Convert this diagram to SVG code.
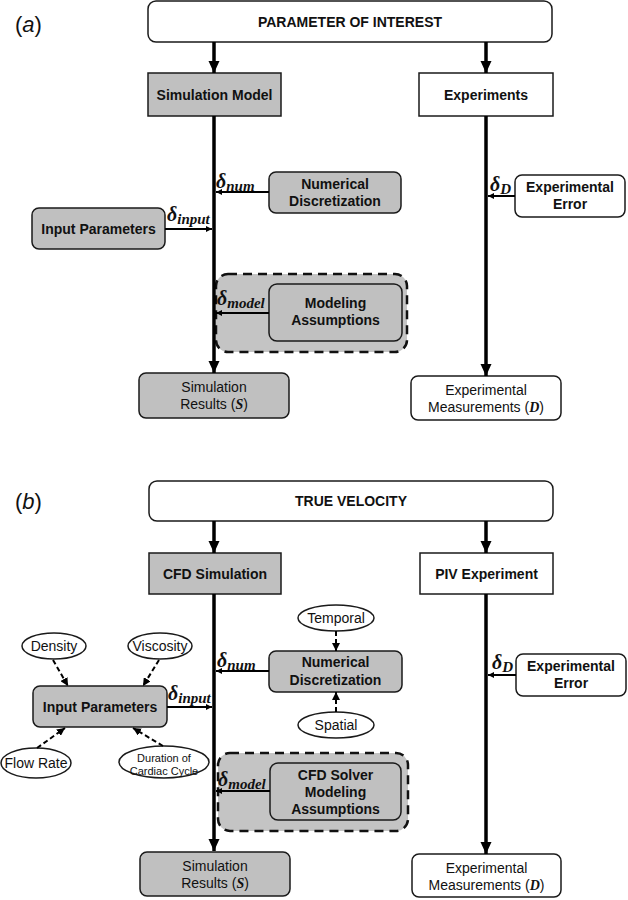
<svg xmlns="http://www.w3.org/2000/svg" width="628" height="900" viewBox="0 0 628 900">
<defs>
<style>
.box{stroke:#1a1a1a;stroke-width:1.5}
.gray{fill:#c0c0c0}
.white{fill:#ffffff}
.dbox{fill:#c4c4c4;stroke:#111;stroke-width:2.5;stroke-dasharray:9,6}
.t{font-family:"Liberation Sans",Arial,sans-serif;font-size:14px;text-anchor:middle;fill:#111}
.b{font-weight:bold}
.sm{font-size:11px}
.lab{font-family:"Liberation Sans",Arial,sans-serif;font-size:22px;fill:#111}
.d{font-family:"Liberation Serif","Times New Roman",serif;font-weight:bold;font-style:italic;fill:#111}
.thick{stroke:#000;stroke-width:3.5;fill:none}
.thin{stroke:#000;stroke-width:2;fill:none}
.dash{stroke:#000;stroke-width:2;stroke-dasharray:5,3;fill:none}
</style>
<marker id="ah" markerUnits="userSpaceOnUse" markerWidth="12" markerHeight="12" refX="12" refY="6" orient="auto">
<path d="M0,0.5 L12,6 L0,11.5 z" fill="#000"/>
</marker>
<marker id="as" markerUnits="userSpaceOnUse" markerWidth="6" markerHeight="6" refX="6" refY="3" orient="auto">
<path d="M0,0 L6,3 L0,6 z" fill="#000"/>
</marker>
<marker id="ad" markerUnits="userSpaceOnUse" markerWidth="8" markerHeight="8" refX="8" refY="4" orient="auto">
<path d="M0,0 L8,4 L0,8 z" fill="#000"/>
</marker>
</defs>

<!-- Panel labels -->
<text class="lab" x="15" y="32">(<tspan font-style="italic">a</tspan>)</text>
<text class="lab" x="15" y="509">(<tspan font-style="italic">b</tspan>)</text>

<!-- ===== Part (a) nodes ===== -->
<g id="a-dashed-group">
<rect class="dbox" x="216" y="274" width="191" height="78" rx="12"/>
</g>
<g id="a-parameter">
<rect class="box white" x="148" y="1" width="404" height="41" rx="8"/>
<text class="t b" x="350" y="27">PARAMETER OF INTEREST</text>
</g>
<g id="a-simulation-model">
<rect class="box gray" x="148" y="73" width="133" height="43"/>
<text class="t b" x="214.5" y="99.5">Simulation Model</text>
</g>
<g id="a-experiments">
<rect class="box white" x="419" y="73" width="134" height="43"/>
<text class="t b" x="486" y="99.5">Experiments</text>
</g>
<g id="a-numerical">
<rect class="box gray" x="269" y="172" width="132" height="41" rx="7"/>
<text class="t b" x="335" y="189">Numerical</text>
<text class="t b" x="335" y="206">Discretization</text>
</g>
<g id="a-input">
<rect class="box gray" x="32" y="208" width="133" height="41" rx="7"/>
<text class="t b" x="98.5" y="233.5">Input Parameters</text>
</g>
<g id="a-exp-error">
<rect class="box white" x="515" y="175" width="110" height="42" rx="7"/>
<text class="t b" x="570" y="192">Experimental</text>
<text class="t b" x="570" y="209">Error</text>
</g>
<g id="a-modeling">
<rect class="box gray" x="269" y="284" width="133" height="57" rx="8"/>
<text class="t b" x="335.5" y="308">Modeling</text>
<text class="t b" x="335.5" y="325">Assumptions</text>
</g>
<g id="a-sim-results">
<rect class="box gray" x="139" y="373" width="150" height="45" rx="7"/>
<text class="t" x="214" y="392">Simulation</text>
<text class="t" x="214" y="409">Results (<tspan class="d">S</tspan>)</text>
</g>
<g id="a-exp-meas">
<rect class="box white" x="411" y="376" width="150" height="44" rx="7"/>
<text class="t" x="486" y="395">Experimental</text>
<text class="t" x="486" y="412">Measurements (<tspan class="d">D</tspan>)</text>
</g>

<!-- ===== Part (b) nodes ===== -->
<g id="b-dashed-group">
<rect class="dbox" x="218" y="753" width="190" height="78" rx="12"/>
</g>
<g id="b-true-velocity">
<rect class="box white" x="149" y="481" width="404" height="40" rx="8"/>
<text class="t b" x="351" y="506">TRUE VELOCITY</text>
</g>
<g id="b-cfd-simulation">
<rect class="box gray" x="149" y="553" width="132" height="41"/>
<text class="t b" x="215" y="578.5">CFD Simulation</text>
</g>
<g id="b-piv">
<rect class="box white" x="420" y="553" width="133" height="41"/>
<text class="t b" x="486.5" y="578.5">PIV Experiment</text>
</g>
<g id="b-temporal">
<ellipse class="box white" cx="336" cy="618" rx="38" ry="13"/>
<text class="t" x="336" y="623">Temporal</text>
</g>
<g id="b-numerical">
<rect class="box gray" x="269" y="651" width="133" height="41" rx="7"/>
<text class="t b" x="335.5" y="667">Numerical</text>
<text class="t b" x="335.5" y="684.5">Discretization</text>
</g>
<g id="b-spatial">
<ellipse class="box white" cx="336" cy="725" rx="38" ry="13"/>
<text class="t" x="336" y="730">Spatial</text>
</g>
<g id="b-density">
<ellipse class="box white" cx="54" cy="646" rx="32" ry="13"/>
<text class="t" x="54" y="651">Density</text>
</g>
<g id="b-viscosity">
<ellipse class="box white" cx="160" cy="646" rx="32" ry="13"/>
<text class="t" x="160" y="651">Viscosity</text>
</g>
<g id="b-input">
<rect class="box gray" x="33" y="686" width="134" height="41" rx="7"/>
<text class="t b" x="100" y="712">Input Parameters</text>
</g>
<g id="b-flow-rate">
<ellipse class="box white" cx="36" cy="763" rx="35" ry="15"/>
<text class="t" x="36" y="768">Flow Rate</text>
</g>
<g id="b-duration">
<ellipse class="box white" cx="164" cy="762" rx="45" ry="16"/>
<text class="t sm" x="164" y="762">Duration of</text>
<text class="t sm" x="164" y="775">Cardiac Cycle</text>
</g>
<g id="b-exp-error">
<rect class="box white" x="516" y="654" width="110" height="42" rx="7"/>
<text class="t b" x="571" y="671">Experimental</text>
<text class="t b" x="571" y="688">Error</text>
</g>
<g id="b-cfd-solver">
<rect class="box gray" x="270" y="763" width="131" height="57" rx="8"/>
<text class="t b" x="335.5" y="780">CFD Solver</text>
<text class="t b" x="335.5" y="797">Modeling</text>
<text class="t b" x="335.5" y="814">Assumptions</text>
</g>
<g id="b-sim-results">
<rect class="box gray" x="140" y="852" width="150" height="44" rx="7"/>
<text class="t" x="215" y="871">Simulation</text>
<text class="t" x="215" y="888">Results (<tspan class="d">S</tspan>)</text>
</g>
<g id="b-exp-meas">
<rect class="box white" x="412" y="854" width="149" height="43" rx="7"/>
<text class="t" x="486.5" y="873">Experimental</text>
<text class="t" x="486.5" y="890">Measurements (<tspan class="d">D</tspan>)</text>
</g>

<!-- ===== Connectors ===== -->
<g id="connectors">
<!-- (a) -->
<line class="thick" x1="214" y1="42" x2="214" y2="73" marker-end="url(#ah)"/>
<line class="thick" x1="486" y1="42" x2="486" y2="73" marker-end="url(#ah)"/>
<line class="thick" x1="214" y1="116" x2="214" y2="373" marker-end="url(#ah)"/>
<line class="thick" x1="486" y1="116" x2="486" y2="376" marker-end="url(#ah)"/>
<line class="thin" x1="269" y1="192" x2="216" y2="192" marker-end="url(#as)"/>
<line class="thin" x1="165" y1="229" x2="212" y2="229" marker-end="url(#as)"/>
<line class="thin" x1="515" y1="196" x2="488" y2="196" marker-end="url(#as)"/>
<line class="thin" x1="269" y1="313" x2="216" y2="313" marker-end="url(#as)"/>
<!-- (b) -->
<line class="thick" x1="214" y1="521" x2="214" y2="553" marker-end="url(#ah)"/>
<line class="thick" x1="486" y1="521" x2="486" y2="553" marker-end="url(#ah)"/>
<line class="thick" x1="214" y1="594" x2="214" y2="851" marker-end="url(#ah)"/>
<line class="thick" x1="486" y1="594" x2="486" y2="854" marker-end="url(#ah)"/>
<line class="thin" x1="269" y1="671" x2="216" y2="671" marker-end="url(#as)"/>
<line class="thin" x1="167" y1="707" x2="212" y2="707" marker-end="url(#as)"/>
<line class="thin" x1="516" y1="675" x2="488" y2="675" marker-end="url(#as)"/>
<line class="thin" x1="270" y1="791" x2="216" y2="791" marker-end="url(#as)"/>
<line class="dash" x1="336" y1="631" x2="336" y2="651" marker-end="url(#ad)"/>
<line class="dash" x1="336" y1="712" x2="336" y2="692" marker-end="url(#ad)"/>
<line class="dash" x1="53" y1="660" x2="68" y2="686" marker-end="url(#ad)"/>
<line class="dash" x1="159" y1="660" x2="143" y2="686" marker-end="url(#ad)"/>
<line class="dash" x1="37" y1="748" x2="65" y2="728" marker-end="url(#ad)"/>
<line class="dash" x1="163" y1="746" x2="133" y2="728" marker-end="url(#ad)"/>
</g>

<!-- ===== Connector labels ===== -->
<g id="labels">
<text class="d" x="216" y="188"><tspan font-size="20">δ</tspan><tspan font-size="15" dy="3">num</tspan></text>
<text class="d" x="167" y="221"><tspan font-size="20">δ</tspan><tspan font-size="15" dy="3">input</tspan></text>
<text class="d" x="490" y="191"><tspan font-size="20">δ</tspan><tspan font-size="15" dy="3">D</tspan></text>
<text class="d" x="217" y="305"><tspan font-size="20">δ</tspan><tspan font-size="15" dy="3">model</tspan></text>
<text class="d" x="217" y="667"><tspan font-size="20">δ</tspan><tspan font-size="15" dy="3">num</tspan></text>
<text class="d" x="168" y="700"><tspan font-size="20">δ</tspan><tspan font-size="15" dy="3">input</tspan></text>
<text class="d" x="492" y="669"><tspan font-size="20">δ</tspan><tspan font-size="15" dy="3">D</tspan></text>
<text class="d" x="218" y="786"><tspan font-size="20">δ</tspan><tspan font-size="15" dy="3">model</tspan></text>
</g>
</svg>
